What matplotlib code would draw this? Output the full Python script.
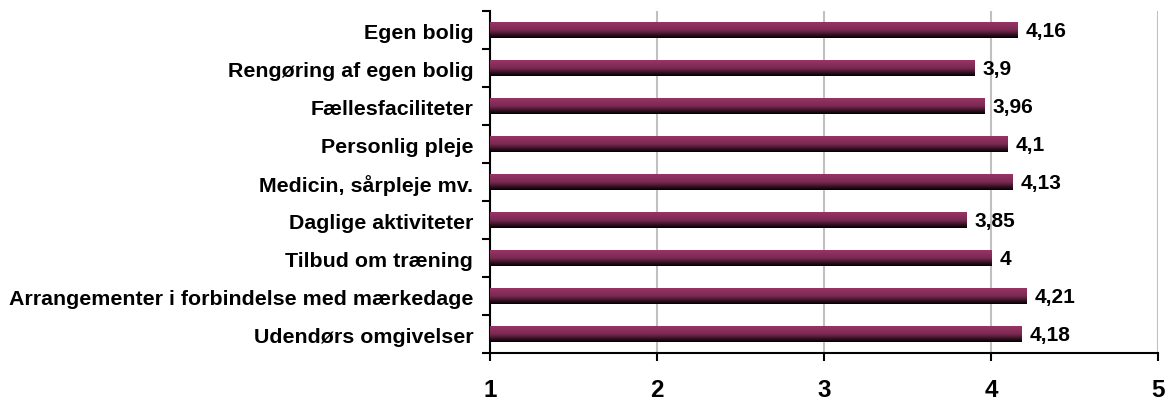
import matplotlib
matplotlib.use("Agg")
import matplotlib.pyplot as plt
import numpy as np
from matplotlib.colors import LinearSegmentedColormap

categories = ["Egen bolig", "Rengøring af egen bolig", "Fællesfaciliteter", "Personlig pleje",
              "Medicin, sårpleje mv.", "Daglige aktiviteter", "Tilbud om træning",
              "Arrangementer i forbindelse med mærkedage", "Udendørs omgivelser"]
values = [4.16, 3.9, 3.96, 4.1, 4.13, 3.85, 4.0, 4.21, 4.18]
value_labels = ["4,16", "3,9", "3,96", "4,1", "4,13", "3,85", "4", "4,21", "4,18"]
xticks = [1, 2, 3, 4, 5]

plt.rcParams['font.family'] = ['Liberation Sans', 'DejaVu Sans']

fig = plt.figure(figsize=(11.69, 4.06), dpi=100)
ax = fig.add_axes([0.419, 0.128, 0.5716, 0.842])

n = len(categories)
ypos = np.arange(n)
bh = 0.42
bars = ax.barh(ypos, [v - 1 for v in values], left=1, height=bh, color="none", edgecolor="none", zorder=3)

cmap = LinearSegmentedColormap.from_list("g", ["#993366", "#7a2a52", "#000000"])
grad = np.linspace(0, 1, 64).reshape(-1, 1)
for b in bars:
    x0, y0 = b.get_x(), b.get_y()
    w, h = b.get_width(), b.get_height()
    im = ax.imshow(grad, cmap=cmap, aspect="auto", extent=[x0, x0 + w, y0 + h, y0],
                   origin="upper", zorder=3, interpolation="bilinear")
    im.set_clip_path(b)

for y, v, lab in zip(ypos, values, value_labels):
    ax.annotate(lab, (v, y), xytext=(6, 0), textcoords="offset points",
                va="center", ha="left", fontsize=15, fontweight="bold")

ax.set_xlim(1, 5)
ax.set_ylim(n - 0.5, -0.5)
ax.set_xticks(xticks)
ax.set_xticklabels([str(t) for t in xticks], fontsize=17.5, fontweight="bold")
ax.set_yticks(ypos)
ax.set_yticklabels(categories, fontsize=15.4, fontweight="bold")
ax.set_yticks(np.arange(-0.5, n, 1), minor=True)
ax.tick_params(axis="y", which="major", length=0, pad=12)
ax.tick_params(axis="y", which="minor", length=6, width=1.5)
ax.tick_params(axis="x", which="major", length=6, width=1.5, pad=12)
ax.xaxis.grid(True, color="#c0c0c0", linewidth=1.5, zorder=0)
ax.set_axisbelow(True)
for s in ["top", "right"]:
    ax.spines[s].set_visible(False)
for s in ["left", "bottom"]:
    ax.spines[s].set_linewidth(1.5)

fig.savefig("out.png", dpi=100)
